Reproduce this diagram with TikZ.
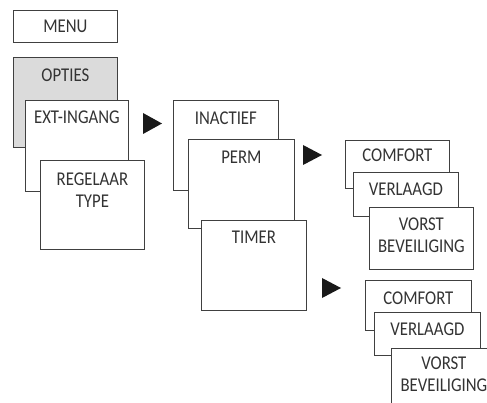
\documentclass[tikz,border=0pt]{standalone}
\usepackage{fontspec}
\setmainfont{Carlito}[FakeStretch=0.86]
\usepackage{tikz}
\usetikzlibrary{positioning}

\begin{document}
\begin{tikzpicture}[
    x=1pt, y=-1pt,
    every node/.style={font=\fontsize{19.5}{22}\selectfont, text=black!80},
    % menu boxes: placed by their top left corner
    menubox/.style={
        rectangle,
        draw=black!75,
        fill=white,
        line width=0.8pt,
        anchor=north west,
        inner sep=0pt
    },
    selbox/.style={menubox, fill=black!14},
    boxtext/.style={anchor=north, inner sep=0pt, align=center},
    pointer/.style={fill=black!90}
]

\useasboundingbox (0,0) rectangle (487,403);
\clip (0,0) rectangle (487,403);

% Level 1
\node[menubox, minimum width=104pt, minimum height=32pt] (menu) at (13,10) {};
\node[boxtext] (menu-t) at ([yshift=-10pt]menu.north) {MENU};

\node[selbox, minimum width=104pt, minimum height=90pt] (opties) at (13,57) {};
\node[boxtext] (opties-t) at ([yshift=-12pt]opties.north) {OPTIES};

\node[menubox, minimum width=103pt, minimum height=91pt] (extin) at (25,100) {};
\node[boxtext] (extin-t) at ([yshift=-11pt]extin.north) {EXT-INGANG};

\node[menubox, minimum width=104pt, minimum height=89pt] (regel) at (40,160) {};
\node[boxtext] (regel-t) at ([yshift=-13pt]regel.north) {REGELAAR\\TYPE};

\fill[pointer] (143,113) -- (162,123.5) -- (143,134) -- cycle;

% Level 2
\node[menubox, minimum width=105pt, minimum height=90pt] (inact) at (173,100) {};
\node[boxtext] (inact-t) at ([yshift=-12pt]inact.north) {INACTIEF};

\node[menubox, minimum width=106pt, minimum height=89pt] (perm) at (188,139) {};
\node[boxtext] (perm-t) at ([yshift=-12pt]perm.north) {PERM};

\node[menubox, minimum width=105pt, minimum height=90pt] (timer) at (201,220) {};
\node[boxtext] (timer-t) at ([yshift=-11pt]timer.north) {TIMER};

\fill[pointer] (303,145) -- (322,155) -- (303,165) -- cycle;
\fill[pointer] (322,278) -- (341,288) -- (322,298) -- cycle;

% Level 3 (PERM)
\node[menubox, minimum width=104pt, minimum height=48pt] (comf1) at (345,140) {};
\node[boxtext] (comf1-t) at ([yshift=-9pt]comf1.north) {COMFORT};

\node[menubox, minimum width=105pt, minimum height=44pt] (verl1) at (353,172) {};
\node[boxtext] (verl1-t) at ([yshift=-11pt]verl1.north) {VERLAAGD};

\node[menubox, minimum width=104pt, minimum height=62pt] (vorst1) at (369,207) {};
\node[boxtext] (vorst1-t) at ([yshift=-11pt]vorst1.north) {VORST\\BEVEILIGING};

% Level 3 (TIMER)
\node[menubox, minimum width=106pt, minimum height=50pt] (comf2) at (365,280) {};
\node[boxtext] (comf2-t) at ([yshift=-12pt]comf2.north) {COMFORT};

\node[menubox, minimum width=106pt, minimum height=43pt] (verl2) at (374,312) {};
\node[boxtext] (verl2-t) at ([yshift=-11pt]verl2.north) {VERLAAGD};

\node[menubox, minimum width=105pt, minimum height=70pt] (vorst2) at (391,348) {};
\node[boxtext] (vorst2-t) at ([yshift=-9pt]vorst2.north) {VORST\\BEVEILIGING};

\end{tikzpicture}
\end{document}
